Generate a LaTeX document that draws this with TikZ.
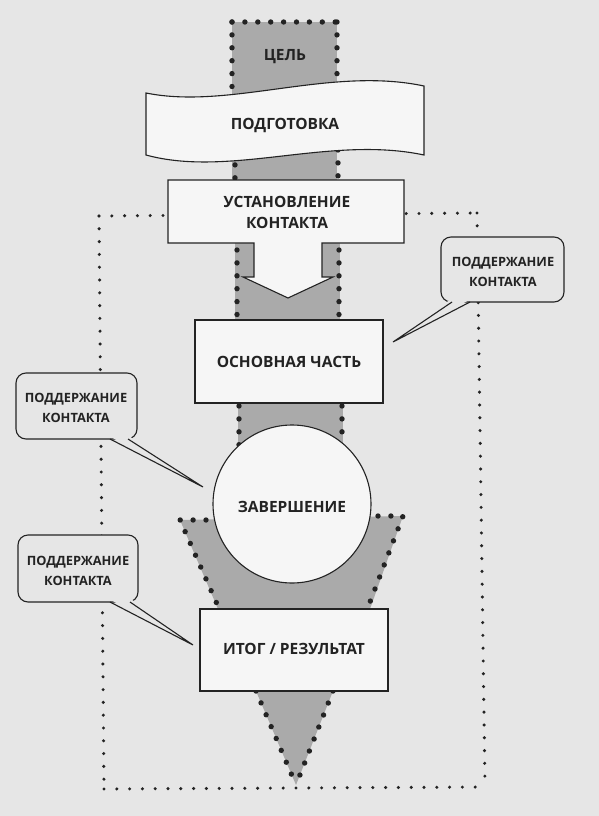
\documentclass[tikz,border=0pt]{standalone}
\usepackage{fontspec}
\setmainfont{Open Sans}
\definecolor{pagebg}{RGB}{230,230,230}
\definecolor{boxc}{RGB}{246,246,246}
\definecolor{grayc}{RGB}{170,170,170}
\definecolor{inkc}{RGB}{35,35,35}
\tikzset{
  ink/.style={draw=inkc, line width=1.1pt},
  whitebox/.style={ink, fill=boxc},
  graypart/.style={fill=grayc},
  smalldots/.style={draw=inkc, line width=3.4pt, line cap=round, dash pattern=on 0pt off 12.8pt},
  bigdots/.style={draw=inkc, line width=5.4pt, line cap=round, dash pattern=on 0pt off 12.9pt},
  lbl/.style={font=\fontsize{15.5}{21}\selectfont\bfseries, text=inkc, align=center, inner sep=0pt},
  clbl/.style={font=\fontsize{12.8}{20}\selectfont\bfseries, text=inkc, align=center, inner sep=0pt},
  callout/.style={ink, fill=pagebg, rounded corners=10pt},
  tailfill/.style={fill=pagebg},
}
\begin{document}
\begin{tikzpicture}[x=1pt,y=-1pt]
\useasboundingbox (0,0) rectangle (599,816);
\fill[pagebg] (0,0) rectangle (599,816);

% outer dotted loop
\coordinate (lt) at (99,216);
\coordinate (rt) at (477,213);
\coordinate (rb) at (485,787);
\coordinate (lb) at (104,789);
\draw[smalldots] (lt) -- (rt);
\draw[smalldots] (rt) -- (rb);
\draw[smalldots] (lb) -- (rb);
\draw[smalldots] (lt) -- (lb);

% gray column parts
\fill[graypart] (232,22) rectangle (337,180);
\fill[graypart] (235,243) rectangle (340,320);
\fill[graypart] (238,403) rectangle (343,450);
\fill[graypart] (180,520) -- (403,516) -- (370,609) -- (218,609) -- cycle;
\fill[graypart] (256,691) -- (333,691) -- (296,785) -- cycle;

% dots on gray edges
\draw[bigdots] (232,22) -- (337,22);
\draw[bigdots] (232,22) -- (232,90);
\draw[bigdots] (337,22) -- (337,80);
\draw[bigdots] (235,152) -- (235,178);
\draw[bigdots] (338,150) -- (338,178);
\draw[bigdots] (237,250) -- (237,318);
\draw[bigdots] (339,250) -- (339,318);
\draw[bigdots] (239,406) -- (239,445);
\draw[bigdots] (342,406) -- (342,432);
\draw[bigdots] (206,520) -- (180,520) -- (217,604);
\draw[bigdots] (378,516) -- (403,516) -- (370,602);
\draw[bigdots] (256,691) -- (296,785);
\draw[bigdots] (333,691) -- (296,785);

% ЦЕЛЬ
\node[lbl] (cel) at (285,57) {ЦЕЛЬ};

% ПОДГОТОВКА banner
\draw[whitebox] (146,93) .. controls (230,110) and (330,66) .. (424,86)
  -- (424,155) .. controls (330,135) and (230,178) .. (146,155) -- cycle;
\node[lbl] (podg) at (285,125) {ПОДГОТОВКА};

% УСТАНОВЛЕНИЕ КОНТАКТА with arrow
\draw[whitebox] (168,180) -- (404,180) -- (404,243) -- (322,243) -- (322,277)
  -- (333,277) -- (288,298) -- (243,277) -- (254,277) -- (254,243)
  -- (168,243) -- cycle;
\node[lbl] (ustan) at (287,212) {УСТАНОВЛЕНИЕ\\КОНТАКТА};

% ОСНОВНАЯ ЧАСТЬ
\draw[whitebox] (195,320) rectangle (383,403);
\node[lbl] (osn) at (289,362) {ОСНОВНАЯ ЧАСТЬ};

% ЗАВЕРШЕНИЕ
\draw[whitebox] (292,504) circle (79pt);
\node[lbl] (zav) at (292,507) {ЗАВЕРШЕНИЕ};

% ИТОГ / РЕЗУЛЬТАТ
\draw[whitebox] (200,609) rectangle (388,691);
\node[lbl] (itog) at (294,649) {ИТОГ / РЕЗУЛЬТАТ};

% callouts
\draw[callout] (441,237) rectangle (564,302);
\fill[tailfill] (451,299) -- (471,299) -- (393,342) -- cycle;
\draw[ink] (452,302) -- (393,342) -- (470,302);
\node[clbl] (c1) at (503,272) {ПОДДЕРЖАНИЕ\\КОНТАКТА};

\draw[callout] (16,373) rectangle (137,439);
\fill[tailfill] (109,436) -- (129,436) -- (203,487) -- cycle;
\draw[ink] (110,439) -- (203,487) -- (128,439);
\node[clbl] (c2) at (76,408) {ПОДДЕРЖАНИЕ\\КОНТАКТА};

\draw[callout] (18,535) rectangle (138,602);
\fill[tailfill] (109,599) -- (131,599) -- (193,645) -- cycle;
\draw[ink] (110,602) -- (193,645) -- (130,602);
\node[clbl] (c3) at (78,571) {ПОДДЕРЖАНИЕ\\КОНТАКТА};
\end{tikzpicture}
\end{document}
